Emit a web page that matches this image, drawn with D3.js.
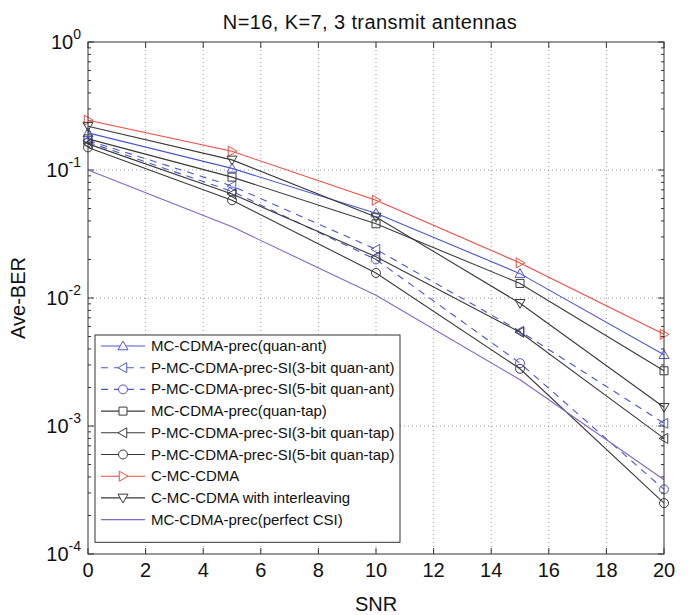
<!DOCTYPE html>
<html>
<head>
<meta charset="utf-8">
<script src="https://cdn.jsdelivr.net/npm/d3@7"></script>
<style>
  body { margin: 0; background: #fff; }
  svg { font-family: "Liberation Sans", Arial, sans-serif; }
</style>
</head>
<body>
<div id="chart"></div>
<script>
// data
var snr = [0, 5, 10, 15, 20];
var xTicks = [0, 2, 4, 6, 8, 10, 12, 14, 16, 18, 20];
var yExponents = [0, -1, -2, -3, -4];

var quanAnt     = [0.195, 0.103, 0.046, 0.0155, 0.0036];
var ant3bit     = [0.170, 0.075, 0.024, 0.0055, 0.00105];
var ant5bit     = [0.165, 0.068, 0.020, 0.0031, 0.00032];
var quanTap     = [0.175, 0.088, 0.038, 0.0130, 0.0027];
var tap3bit     = [0.160, 0.065, 0.021, 0.0054, 0.0008];
var tap5bit     = [0.150, 0.058, 0.0157, 0.0028, 0.00025];
var cmc         = [0.245, 0.140, 0.058, 0.0188, 0.0052];
var cmcInterl   = [0.220, 0.120, 0.043, 0.0091, 0.0014];
var perfectCSI  = [0.100, 0.036, 0.0105, 0.0023, 0.00038];

var seriesNames = [
  "MC-CDMA-prec(quan-ant)",
  "P-MC-CDMA-prec-SI(3-bit quan-ant)",
  "P-MC-CDMA-prec-SI(5-bit quan-ant)",
  "MC-CDMA-prec(quan-tap)",
  "P-MC-CDMA-prec-SI(3-bit quan-tap)",
  "P-MC-CDMA-prec-SI(5-bit quan-tap)",
  "C-MC-CDMA",
  "C-MC-CDMA with interleaving",
  "MC-CDMA-prec(perfect CSI)"
];

var blue = "#4b57d2", black = "#3a3a3a", red = "#ef4b3d", purple = "#8466cc";

var series = [
  { name: seriesNames[0], values: quanAnt,    color: blue,   dash: null,  marker: "up" },
  { name: seriesNames[1], values: ant3bit,    color: blue,   dash: "7,6", marker: "left" },
  { name: seriesNames[2], values: ant5bit,    color: blue,   dash: "7,6", marker: "circle" },
  { name: seriesNames[3], values: quanTap,    color: black,  dash: null,  marker: "square" },
  { name: seriesNames[4], values: tap3bit,    color: black,  dash: null,  marker: "left" },
  { name: seriesNames[5], values: tap5bit,    color: black,  dash: null,  marker: "circle" },
  { name: seriesNames[6], values: cmc,        color: red,    dash: null,  marker: "right" },
  { name: seriesNames[7], values: cmcInterl,  color: black,  dash: null,  marker: "down" },
  { name: seriesNames[8], values: perfectCSI, color: purple, dash: null,  marker: null }
];

var margin = { top: 42, right: 25, bottom: 61, left: 88 },
  fullW = 689, fullH = 615,
  width = fullW - margin.left - margin.right,
  height = fullH - margin.top - margin.bottom;

var svg = d3.select("#chart").append("svg")
  .attr("width", fullW).attr("height", fullH);

var g = svg.append("g")
  .attr("transform", "translate(" + margin.left + "," + margin.top + ")");

var x = d3.scaleLinear().domain([0, 20]).range([0, width]);
var y = d3.scaleLog().domain([1e-4, 1]).range([height, 0]);

// grid
g.selectAll(".gx").data(xTicks.slice(1, -1)).enter().append("line")
  .attr("x1", function (d) { return x(d); }).attr("x2", function (d) { return x(d); })
  .attr("y1", 0).attr("y2", height)
  .attr("stroke", "#999").attr("stroke-dasharray", "1,3");
g.selectAll(".gy").data(yExponents.slice(1, -1)).enter().append("line")
  .attr("y1", function (d) { return y(Math.pow(10, d)); })
  .attr("y2", function (d) { return y(Math.pow(10, d)); })
  .attr("x1", 0).attr("x2", width)
  .attr("stroke", "#999").attr("stroke-dasharray", "1,3");

// ticks inside the box
var minor = [];
for (var e = -4; e < 0; e++) {
  for (var m = 2; m <= 9; m++) minor.push(m * Math.pow(10, e));
}
var ticks = g.append("g").attr("stroke", "#333").attr("stroke-width", 1);
xTicks.forEach(function (t) {
  ticks.append("line").attr("x1", x(t)).attr("x2", x(t)).attr("y1", height).attr("y2", height - 6);
  ticks.append("line").attr("x1", x(t)).attr("x2", x(t)).attr("y1", 0).attr("y2", 6);
});
yExponents.forEach(function (ex) {
  var yy = y(Math.pow(10, ex));
  ticks.append("line").attr("x1", 0).attr("x2", 6).attr("y1", yy).attr("y2", yy);
  ticks.append("line").attr("x1", width).attr("x2", width - 6).attr("y1", yy).attr("y2", yy);
});
minor.forEach(function (v) {
  var yy = y(v);
  ticks.append("line").attr("x1", 0).attr("x2", 3).attr("y1", yy).attr("y2", yy);
  ticks.append("line").attr("x1", width).attr("x2", width - 3).attr("y1", yy).attr("y2", yy);
});

// marker shapes
function markerPath(type, s) {
  var h = s;
  if (type === "up") return "M0," + (-h) + "L" + h + "," + (h * 0.75) + "L" + (-h) + "," + (h * 0.75) + "Z";
  if (type === "down") return "M0," + h + "L" + h + "," + (-h * 0.75) + "L" + (-h) + "," + (-h * 0.75) + "Z";
  if (type === "left") return "M" + (-h) + ",0L" + (h * 0.75) + "," + (-h) + "L" + (h * 0.75) + "," + h + "Z";
  if (type === "right") return "M" + h + ",0L" + (-h * 0.75) + "," + (-h) + "L" + (-h * 0.75) + "," + h + "Z";
  if (type === "square") return "M" + (-h * 0.8) + "," + (-h * 0.8) + "h" + (h * 1.6) + "v" + (h * 1.6) + "h" + (-h * 1.6) + "Z";
  if (type === "circle") return d3.symbol(d3.symbolCircle, Math.PI * h * h * 0.8)();
  return null;
}

var line = d3.line()
  .x(function (d, i) { return x(snr[i]); })
  .y(function (d) { return y(d); });

series.forEach(function (s) {
  g.append("path")
    .datum(s.values)
    .attr("d", line)
    .attr("fill", "none")
    .attr("stroke", s.color)
    .attr("stroke-width", 1.1)
    .attr("stroke-dasharray", s.dash);
  if (s.marker) {
    g.selectAll(null).data(s.values).enter().append("path")
      .attr("transform", function (d, i) { return "translate(" + x(snr[i]) + "," + y(d) + ")"; })
      .attr("d", markerPath(s.marker, 5))
      .attr("fill", "none")
      .attr("stroke", s.color)
      .attr("stroke-width", 1);
  }
});

// frame
g.append("rect").attr("width", width).attr("height", height)
  .attr("fill", "none").attr("stroke", "#333").attr("stroke-width", 1);

// tick labels
g.selectAll(".xl").data(xTicks).enter().append("text")
  .attr("x", function (d) { return x(d); })
  .attr("y", height + 23)
  .attr("text-anchor", "middle")
  .attr("font-size", 20)
  .attr("fill", "#111")
  .text(function (d) { return d; });

var yl = g.selectAll(".yl").data(yExponents).enter().append("text")
  .attr("x", -7)
  .attr("y", function (d) { return y(Math.pow(10, d)) + 7; })
  .attr("text-anchor", "end")
  .attr("font-size", 20)
  .attr("fill", "#111");
yl.append("tspan").text("10");
yl.append("tspan").attr("dy", -10).attr("font-size", 14).text(function (d) { return d; });

// titles
svg.append("text")
  .attr("x", 370).attr("y", 29)
  .attr("text-anchor", "middle").attr("font-size", 20).attr("fill", "#111")
  .attr("letter-spacing", 0.4)
  .text("N=16, K=7, 3 transmit antennas");
svg.append("text")
  .attr("x", margin.left + width / 2).attr("y", 611)
  .attr("text-anchor", "middle").attr("font-size", 20).attr("fill", "#111")
  .text("SNR");
svg.append("text")
  .attr("transform", "translate(25," + (margin.top + height / 2) + ") rotate(-90)")
  .attr("text-anchor", "middle").attr("font-size", 20).attr("fill", "#111")
  .text("Ave-BER");

// legend
var lx = 95, ly = 335, rowH = 21.7;
var legend = svg.append("g");
legend.append("rect")
  .attr("x", lx).attr("y", ly)
  .attr("width", 305).attr("height", rowH * series.length + 12)
  .attr("fill", "#fff").attr("stroke", "#333").attr("stroke-width", 1);
series.forEach(function (s, i) {
  var cy = ly + 11 + rowH * i;
  legend.append("line")
    .attr("x1", lx + 6).attr("x2", lx + 50)
    .attr("y1", cy).attr("y2", cy)
    .attr("stroke", s.color).attr("stroke-width", 1.1)
    .attr("stroke-dasharray", s.dash ? "7,6" : null);
  if (s.marker) {
    legend.append("path")
      .attr("transform", "translate(" + (lx + 28) + "," + cy + ")")
      .attr("d", markerPath(s.marker, 5))
      .attr("fill", "#fff").attr("stroke", s.color);
  }
  legend.append("text")
    .attr("x", lx + 56).attr("y", cy + 5)
    .attr("font-size", 15).attr("fill", "#111")
    .text(s.name);
});
</script>
</body>
</html>
